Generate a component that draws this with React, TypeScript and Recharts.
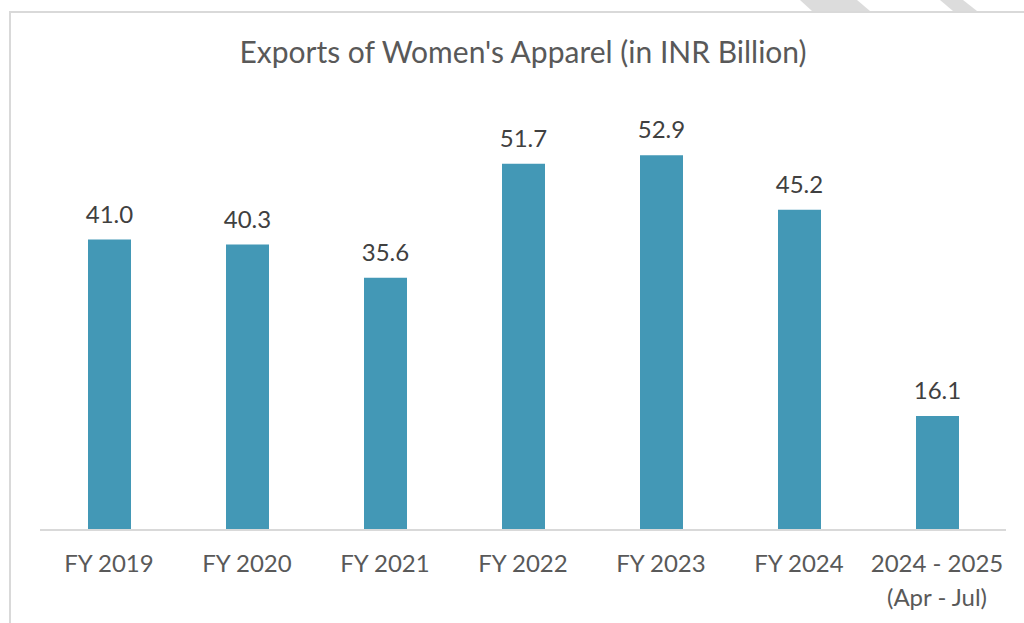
import React from 'react';
import { BarChart, Bar, XAxis, YAxis, LabelList } from 'recharts';

const categories = ['FY 2019', 'FY 2020', 'FY 2021', 'FY 2022', 'FY 2023', 'FY 2024', '2024 - 2025|(Apr - Jul)'];
const exportsValues = [41.0, 40.3, 35.6, 51.7, 52.9, 45.2, 16.1];

const BAR_COLOR = '#4398B6';
const FONT = 'Lato, "Open Sans", sans-serif';

const data = categories.map((name, i) => ({ name, value: exportsValues[i] }));

const CategoryTick = (props: any) => {
  const { x, y, payload } = props;
  const lines = String(payload.value).split('|');
  return (
    <g transform={`translate(${x},${y})`}>
      {lines.map((line, i) => (
        <text
          key={i}
          x={0}
          y={0}
          dy={34 + i * 34}
          textAnchor="middle"
          fill="#595959"
          fontSize={24}
          fontFamily={FONT}
        >
          {line}
        </text>
      ))}
    </g>
  );
};

const App: React.FC = () => {
  return (
    <div style={{ position: 'absolute', left: 0, top: 0, width: 1024, height: 623, overflow: 'hidden', background: '#fff' }}>
      {/* faint watermark strokes at the top right */}
      <svg width={1024} height={623} style={{ position: 'absolute', left: 0, top: 0 }}>
        <polygon points="800,0 857,0 870,11 812,11" fill="#DCDCDC" />
        <polygon points="940,0 963,0 977,11 953,11" fill="#DCDCDC" />
      </svg>
      <div
        style={{
          position: 'absolute',
          left: 9,
          top: 11,
          width: 1040,
          height: 640,
          border: '2px solid #D9D9D9',
          background: '#fff',
          boxSizing: 'border-box',
        }}
      />
      <div
        style={{
          position: 'absolute',
          left: 0,
          top: 33,
          width: 1046,
          textAlign: 'center',
          fontFamily: FONT,
          fontSize: 30,
          color: '#595959',
        }}
      >
        Exports of Women's Apparel (in INR Billion)
      </div>
      <div style={{ position: 'absolute', left: 0, top: 0 }}>
        <BarChart
          width={1024}
          height={623}
          data={data}
          margin={{ top: 105, right: 18, bottom: 33, left: 40 }}
          barSize={43}
        >
          <XAxis
            dataKey="name"
            axisLine={{ stroke: '#D9D9D9', strokeWidth: 2 }}
            tickLine={false}
            tick={<CategoryTick />}
            interval={0}
            height={60}
          />
          <YAxis hide domain={[0, 60]} />
          <Bar dataKey="value" fill={BAR_COLOR} isAnimationActive={false}>
            <LabelList
              dataKey="value"
              position="top"
              offset={17}
              formatter={(v: any) => Number(v).toFixed(1)}
              fill="#404040"
              fontSize={24}
              fontFamily={FONT}
            />
          </Bar>
        </BarChart>
      </div>
    </div>
  );
};

export default App;
